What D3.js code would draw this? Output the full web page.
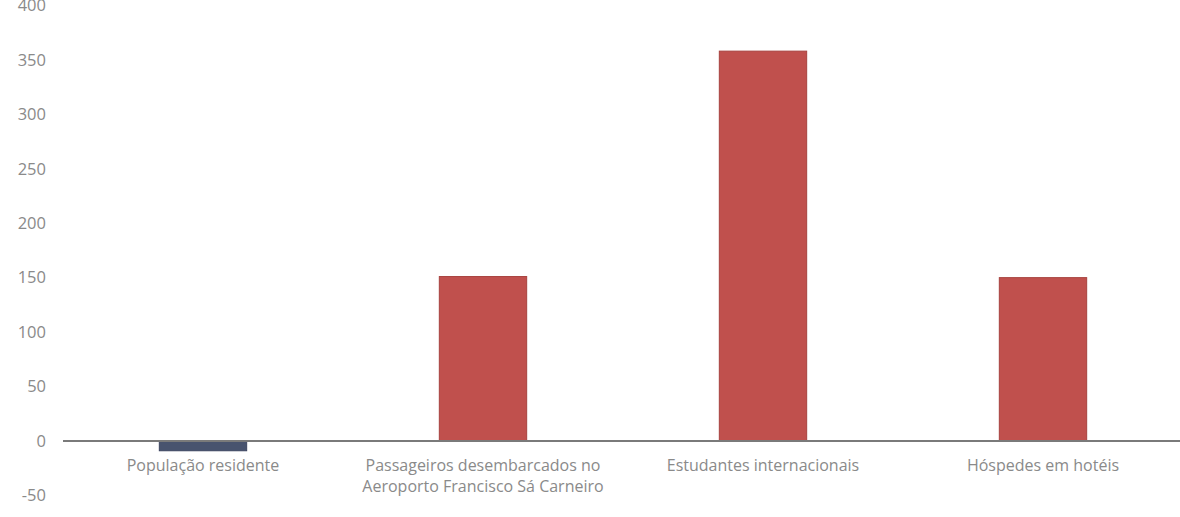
<!DOCTYPE html>
<html>
<head>
<meta charset="utf-8">
<script src="https://cdn.jsdelivr.net/npm/d3@7"></script>
<style>
  html, body { margin: 0; padding: 0; background: #ffffff; }
  svg { display: block; }
  text { font-family: "Open Sans", Lato, sans-serif; fill: #8a8a8a; }
</style>
</head>
<body>
<svg id="chart" width="1180" height="517"></svg>
<script>
// Categories (label lines) and their values
const categories = [
  ["População residente"],
  ["Passageiros desembarcados no", "Aeroporto Francisco Sá Carneiro"],
  ["Estudantes internacionais"],
  ["Hóspedes em hotéis"]
];
const values = [-9, 151, 358, 150];
const tickValues = [-50, 0, 50, 100, 150, 200, 250, 300, 350, 400];

const svg = d3.select("#chart");
const left = 63, right = 1183;

const x = d3.scaleBand()
  .domain(d3.range(categories.length))
  .range([left, right])
  .padding(0);

const y = d3.scaleLinear()
  .domain([-50, 400])
  .range([495.4, 5.4]);

const barW = x.bandwidth() * 0.312;

// Value axis labels (no axis line, no tick marks); plain hyphen for negatives
const yAxis = d3.axisLeft(y)
  .tickValues(tickValues)
  .tickSize(0)
  .tickPadding(0)
  .tickFormat(d => String(d));

const gy = svg.append("g")
  .attr("transform", "translate(46,0)")
  .call(yAxis);
gy.select(".domain").remove();
gy.selectAll("text")
  .attr("font-size", 16.5)
  .style("font-family", "'Open Sans', Lato, sans-serif")
  .attr("fill", "#8a8a8a");

// Bars
svg.append("g")
  .selectAll("rect")
  .data(values)
  .join("rect")
  .attr("x", (d, i) => x(i) + x.bandwidth() / 2 - barW / 2)
  .attr("width", barW)
  .attr("y", d => Math.min(y(d), y(0)))
  .attr("height", d => Math.abs(y(d) - y(0)))
  .attr("fill", d => d < 0 ? "#48536e" : "#c0504d")
  .attr("stroke", d => d < 0 ? "#3c4560" : "#a8433f")
  .attr("stroke-width", 1);

// Zero line
svg.append("line")
  .attr("x1", left).attr("x2", 1180)
  .attr("y1", y(0)).attr("y2", y(0))
  .attr("stroke", "#7a7a7a")
  .attr("stroke-width", 2);

// Category labels, one text element per line
const lines = categories.flatMap((lbl, i) =>
  lbl.map((t, j) => ({ i, j, t })));

svg.append("g")
  .selectAll("text")
  .data(lines)
  .join("text")
  .attr("x", d => x(d.i) + x.bandwidth() / 2)
  .attr("y", d => 471 + d.j * 21)
  .attr("text-anchor", "middle")
  .attr("font-size", 16)
  .text(d => d.t);
</script>
</body>
</html>
